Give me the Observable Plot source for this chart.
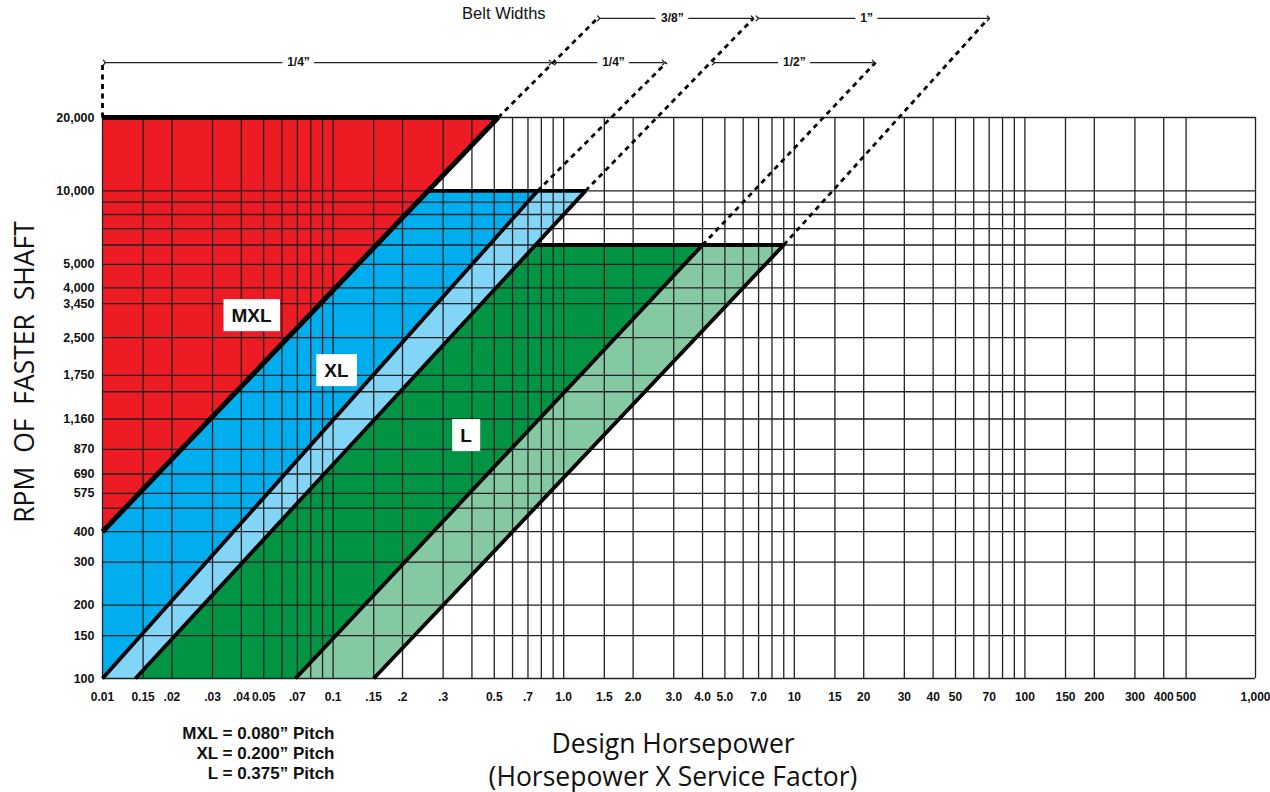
<!DOCTYPE html>
<html><head><meta charset="utf-8">
<script src="https://cdn.jsdelivr.net/npm/d3@7"></script>
<script src="https://cdn.jsdelivr.net/npm/@observablehq/plot@0.6"></script>
<style>body{margin:0;background:#fff;}</style>
</head><body><div id="chart"></div>
<script>
// ---------- data ----------
const xGrid = [0.01,0.015,0.02,0.03,0.04,0.05,0.06,0.07,0.08,0.09,0.1,0.15,0.2,0.3,0.4,0.5,0.6,0.7,0.8,0.9,1,1.5,2,3,4,5,6,7,8,9,10,15,20,30,40,50,60,70,80,90,100,150,200,300,400,500,1000];
const yGrid = [100,150,200,300,400,500,575,690,870,1160,1500,1750,2500,3450,4000,5000,6000,7000,8000,9000,10000,20000];
const xTicks = [0.01,0.015,0.02,0.03,0.04,0.05,0.07,0.1,0.15,0.2,0.3,0.5,0.7,1,1.5,2,3,4,5,7,10,15,20,30,40,50,70,100,150,200,300,400,500,1000];
const xTickLabels = ["0.01","0.15",".02",".03",".04","0.05",".07","0.1",".15",".2",".3","0.5",".7","1.0","1.5","2.0","3.0","4.0","5.0","7.0","10","15","20","30","40","50","70","100","150","200","300","400","500","1,000"];
const yTicks = [100,150,200,300,400,575,690,870,1160,1750,2500,3450,4000,5000,10000,20000];
const yTickLabels = ["100","150","200","300","400","575","690","870","1,160","1,750","2,500","3,450","4,000","5,000","10,000","20,000"];

// belt regions [hp, rpm]
const mxlBand = [[0.01,400],[0.52,20000],[0.01,20000]];
const xlQuarterBand = [[0.01,100],[0.01,400],[0.258,10000],[0.77,10000]];
const xlThreeEighthBand = [[0.01,100],[0.77,10000],[1.243,10000],[0.0139,100]];
const lHalfBand = [[0.0139,100],[0.755,6000],[4.0,6000],[0.0687,100]];
const lOneBand = [[0.0687,100],[4.0,6000],[9.0,6000],[0.15,100]];

// boundary lines
const mxlEdge = [[0.01,400],[0.52,20000],[0.01,20000]];
const xlTop = [[0.258,10000],[1.243,10000]];
const xlQuarterEdge = [[0.01,100],[0.77,10000]];
const xlThreeEighthEdge = [[0.0139,100],[1.243,10000]];
const lTop = [[0.755,6000],[9.0,6000]];
const lHalfEdge = [[0.0687,100],[4.0,6000]];
const lOneEdge = [[0.15,100],[9.0,6000]];

// dashed extensions
const dashed = [
  {x1:0.01, y1:20000, x2:0.01, y2:33600},
  {x1:0.52, y1:20000, x2:1.40, y2:51000},
  {x1:0.77, y1:10000, x2:2.79, y2:33600},
  {x1:1.243, y1:10000, x2:6.65, y2:51000},
  {x1:4.0, y1:6000, x2:22.5, y2:33600},
  {x1:9.0, y1:6000, x2:69.5, y2:51000}
];
// belt width dimension arrows
const widthArrows = [
  {x1:0.0102, x2:0.876, y:33600, label:"1/4\u201D", lx:0.0708},
  {x1:0.921, x2:2.71, y:33600, label:"1/4\u201D", lx:1.644},
  {x1:1.42, x2:6.59, y:51000, label:"3/8\u201D", lx:2.96},
  {x1:4.46, x2:22.05, y:33600, label:"1/2\u201D", lx:10.0},
  {x1:6.92, x2:69.5, y:51000, label:"1\u201D", lx:20.6}
];
const beltWidthsTitle = [{text:"Belt Widths", hp:0.55, rpm:53500}];
const beltLabels = [
  {name:"MXL", hp:0.0443, rpm:3080},
  {name:"XL", hp:0.1034, rpm:1833},
  {name:"L", hp:0.377, rpm:992}
];
const pitchLines = ["MXL = 0.080\u201D Pitch","XL = 0.200\u201D Pitch","L = 0.375\u201D Pitch"];
const xTitle = ["Design Horsepower","(Horsepower X Service Factor)"];
const yTitle = "RPM  OF  FASTER  SHAFT";

// ---------- chart ----------
const sans = "'Liberation Sans',Arial,sans-serif";
const humanist = "'Open Sans','Noto Sans',sans-serif";
const px = d=>d[0], py = d=>d[1];
const band = (data, color) => Plot.line(data, {x:px, y:py, fill:color, stroke:"none"});
const edge = (data, w) => Plot.line(data, {x:px, y:py, stroke:"#000", strokeWidth:w, strokeLinejoin:"miter", strokeLinecap:"butt"});

const chart = Plot.plot({
  width:1270, height:792,
  marginLeft:102, marginRight:15, marginTop:117, marginBottom:114,
  x:{type:"log", domain:[0.01,1000], axis:null},
  y:{type:"log", domain:[100,20000], axis:null},
  style:{background:"white", fontFamily:sans, overflow:"visible"},
  marks:[
    band(mxlBand,"#ED1C24"),
    band(xlQuarterBand,"#00AEEF"),
    band(xlThreeEighthBand,"#82D5F7"),
    band(lHalfBand,"#009444"),
    band(lOneBand,"#84C9A1"),
    Plot.ruleX(xGrid,{stroke:"#222", strokeWidth:1.3}),
    Plot.ruleY(yGrid,{stroke:"#222", strokeWidth:1.3}),
    edge(mxlEdge,5),
    edge(xlTop,3.6),
    edge(xlQuarterEdge,3.8),
    edge(xlThreeEighthEdge,3.8),
    edge(lTop,4),
    edge(lHalfEdge,3.8),
    edge(lOneEdge,3.8),
    Plot.link(dashed,{x1:"x1",y1:"y1",x2:"x2",y2:"y2", stroke:"#000", strokeWidth:2.8, strokeDasharray:"5,4.5"}),
    Plot.link(widthArrows,{x1:"x1",x2:"x2",y1:"y",y2:"y", stroke:"#222", strokeWidth:1.2, markerStart:"arrow", markerEnd:"arrow"}),
    Plot.text(widthArrows,{x:"lx", y:"y", text:"label", fontSize:12, fontWeight:"bold", fill:"#111", stroke:"white", strokeWidth:12, paintOrder:"stroke"}),
    Plot.text(beltWidthsTitle,{x:"hp", y:"rpm", text:"text", fontSize:16.5, fill:"#111"}),
    Plot.text(beltLabels,{x:"hp", y:"rpm", text:"name", fontSize:19, fontWeight:"bold", fill:"#111", className:"belt-label"}),
    // tick labels
    Plot.text(xTicks,{x:d=>d, text:(d,i)=>xTickLabels[i], frameAnchor:"bottom", dy:19, lineAnchor:"middle", fontSize:12, fontWeight:"bold", fill:"#111"}),
    Plot.text(yTicks,{y:d=>d, text:(d,i)=>yTickLabels[i], frameAnchor:"left", dx:-8, textAnchor:"end", fontSize:12.5, fontWeight:"bold", fill:"#111"}),
    Plot.text([pitchLines.join("\n")],{frameAnchor:"bottom-left", dx:232, dy:46, textAnchor:"end", lineAnchor:"top", lineHeight:1.18, fontSize:17, fontWeight:"bold", fill:"#111"}),
    Plot.text([xTitle.join("\n")],{frameAnchor:"bottom", dx:-6, dy:51, lineAnchor:"top", lineHeight:1.24, fontSize:26.5, fill:"#111", fontFamily:humanist}),
    Plot.text([yTitle],{frameAnchor:"left", dx:-77, dy:-26, rotate:-90, textAnchor:"middle", fontSize:26.5, fill:"#111", fontFamily:humanist})
  ]
});
document.getElementById("chart").appendChild(chart);

// white boxes behind the belt labels
let labelTexts = d3.select(chart).selectAll(".belt-label text");
if (labelTexts.empty()) {
  const names = new Set(beltLabels.map(d=>d.name));
  labelTexts = d3.select(chart).selectAll("text").filter(function(){ return names.has(this.textContent) && +getComputedStyle(this).fontSize.replace("px","") > 18; });
}
labelTexts.each(function(){
  const b = this.getBBox();
  const padX = 8, h = 32;
  d3.select(this.parentNode).insert("rect", () => this)
    .attr("transform", this.getAttribute("transform"))
    .attr("x", b.x - padX).attr("y", b.y + b.height/2 - h/2)
    .attr("width", b.width + 2*padX).attr("height", h)
    .attr("fill", "white");
});
</script>
</body></html>
